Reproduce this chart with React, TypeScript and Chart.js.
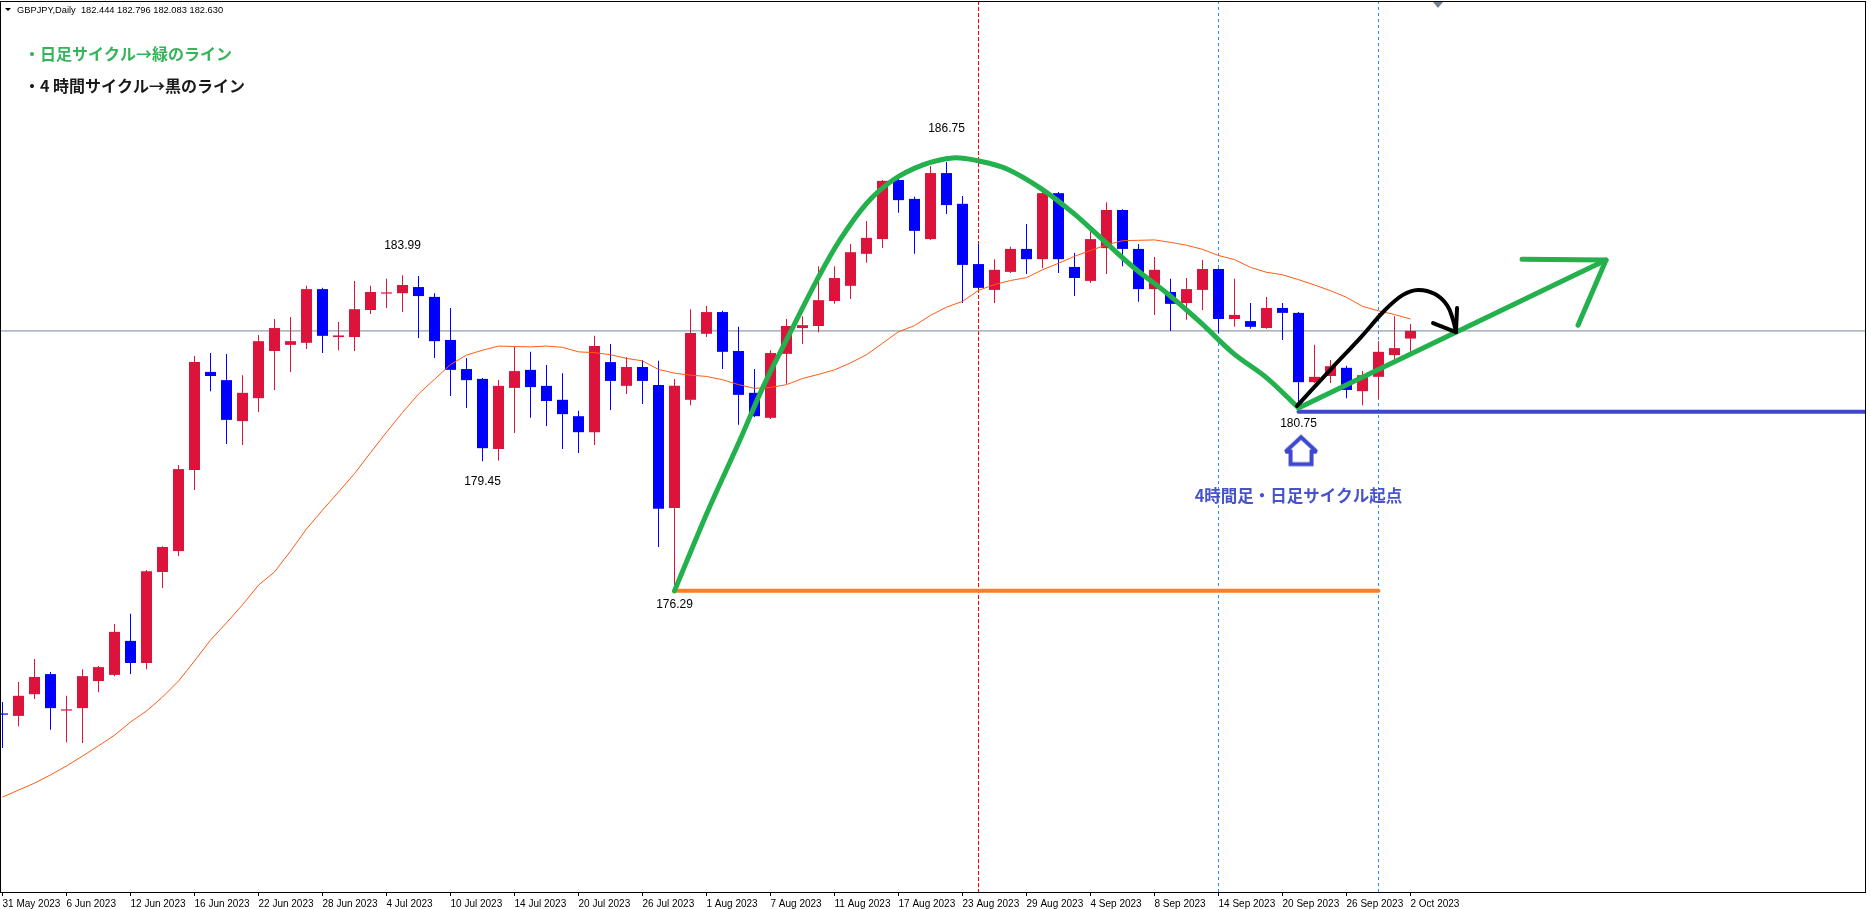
import React, { useEffect, useRef } from "react";
import { Chart, registerables } from "chart.js";

Chart.register(...registerables);

// ---------- data ----------
const symbolTitle = "GBPJPY,Daily";

const tickBars = [0, 4, 8, 12, 16, 20, 24, 28, 32, 36, 40, 44, 48, 52, 56, 60, 64, 68, 72, 76, 80, 84, 88];
const tickLabels = [
  "31 May 2023", "6 Jun 2023", "12 Jun 2023", "16 Jun 2023", "22 Jun 2023", "28 Jun 2023",
  "4 Jul 2023", "10 Jul 2023", "14 Jul 2023", "20 Jul 2023", "26 Jul 2023", "1 Aug 2023",
  "7 Aug 2023", "11 Aug 2023", "17 Aug 2023", "23 Aug 2023", "29 Aug 2023", "4 Sep 2023",
  "8 Sep 2023", "14 Sep 2023", "20 Sep 2023", "26 Sep 2023", "2 Oct 2023",
];

const opens = [
  173.30, 173.24, 173.77, 174.26, 173.37, 173.43, 174.09, 174.24, 175.07, 174.53,
  176.75, 177.26, 179.24, 181.63, 181.43, 180.43, 180.99, 182.14, 182.29, 182.34,
  183.65, 182.48, 182.48, 183.14, 183.54, 183.55, 183.70, 183.46, 182.41, 181.70,
  181.46, 179.75, 181.24, 181.68, 181.29, 180.95, 180.55, 180.16, 181.87, 181.29,
  181.75, 181.31, 178.31, 180.95, 182.56, 183.09, 182.14, 181.12, 180.51, 182.07,
  182.70, 182.75, 183.36, 183.73, 184.51, 184.87, 186.31, 185.85, 184.87, 186.48,
  185.73, 184.26, 183.63, 184.07, 184.63, 184.38, 185.99, 184.19, 183.85, 184.65,
  185.58, 184.63, 183.65, 183.58, 183.31, 183.63, 184.14, 182.92, 182.87, 182.70,
  183.19, 183.07, 181.38, 181.53, 181.73, 181.16, 181.51, 182.04, 182.444,
];
const highs = [
  173.58, 174.07, 174.63, 174.31, 173.73, 174.38, 174.46, 175.48, 175.73, 176.80,
  177.38, 179.36, 182.02, 182.09, 182.07, 181.55, 182.53, 182.92, 182.97, 183.73,
  183.68, 182.85, 183.85, 183.73, 183.90, 183.99, 183.97, 183.55, 183.19, 181.97,
  181.48, 181.43, 182.24, 182.12, 181.80, 181.60, 180.68, 182.51, 182.31, 181.99,
  181.92, 181.90, 181.46, 183.16, 183.24, 183.12, 182.73, 181.70, 182.16, 182.92,
  182.99, 184.21, 184.21, 184.75, 185.31, 186.31, 186.36, 185.90, 186.65, 186.75,
  185.92, 184.75, 184.38, 184.68, 185.24, 186.02, 186.02, 184.53, 185.07, 185.77,
  185.60, 184.75, 184.43, 183.90, 183.92, 184.36, 184.16, 183.90, 183.31, 183.46,
  183.31, 183.09, 182.29, 181.92, 181.78, 181.65, 182.38, 182.99, 182.796,
];
const lows = [
  172.46, 172.99, 173.65, 172.90, 172.60, 172.58, 173.82, 174.21, 174.26, 174.38,
  176.36, 177.14, 178.75, 181.16, 179.87, 179.85, 180.65, 181.19, 181.63, 182.19,
  182.09, 182.16, 182.14, 183.04, 183.19, 183.09, 182.46, 181.97, 181.04, 180.75,
  179.45, 179.47, 180.14, 180.51, 180.31, 179.75, 179.65, 179.85, 180.70, 181.09,
  180.85, 177.36, 176.29, 180.82, 182.48, 181.70, 180.34, 180.53, 180.48, 181.34,
  182.31, 182.60, 183.29, 183.41, 184.29, 184.65, 185.51, 184.51, 184.85, 185.48,
  183.31, 183.65, 183.31, 184.04, 184.02, 184.16, 184.04, 183.48, 183.80, 184.02,
  184.21, 183.34, 183.02, 182.63, 182.90, 183.14, 182.58, 182.73, 182.68, 182.68,
  182.41, 180.75, 181.36, 181.36, 180.99, 180.82, 180.97, 181.90, 182.083,
];
const closes = [
  173.27, 173.73, 174.19, 173.43, 173.40, 174.21, 174.43, 175.29, 174.53, 176.77,
  177.36, 179.26, 181.87, 181.53, 180.46, 181.12, 182.38, 182.70, 182.38, 183.65,
  182.51, 182.52, 183.16, 183.58, 183.57, 183.75, 183.48, 182.38, 181.68, 181.43,
  179.77, 181.29, 181.65, 181.26, 180.92, 180.60, 180.16, 182.26, 181.41, 181.75,
  181.41, 178.29, 181.29, 182.58, 183.09, 182.12, 181.07, 180.55, 182.09, 182.75,
  182.77, 183.38, 183.92, 184.55, 184.90, 186.29, 185.82, 185.07, 186.48, 185.70,
  184.24, 183.68, 184.12, 184.63, 184.38, 185.99, 184.38, 183.92, 184.87, 185.58,
  184.63, 183.65, 184.12, 183.29, 183.65, 184.14, 182.92, 183.02, 182.73, 183.19,
  183.07, 181.38, 181.51, 181.77, 181.19, 181.55, 182.12, 182.21, 182.630,
];
// 20-period moving average
const maValues = [
  171.26, 171.43, 171.60, 171.80, 172.02, 172.26, 172.51, 172.77, 173.09, 173.36,
  173.70, 174.09, 174.58, 175.09, 175.51, 175.95, 176.43, 176.75, 177.26, 177.80,
  178.26, 178.70, 179.15, 179.66, 180.16, 180.64, 181.09, 181.45, 181.81, 182.04,
  182.16, 182.26, 182.25, 182.24, 182.26, 182.23, 182.12, 182.10, 182.05, 181.96,
  181.90, 181.69, 181.60, 181.55, 181.52, 181.44, 181.32, 181.23, 181.25, 181.32,
  181.47, 181.57, 181.68, 181.85, 182.05, 182.33, 182.61, 182.76, 183.01, 183.21,
  183.35, 183.62, 183.76, 183.86, 183.93, 184.12, 184.28, 184.45, 184.59, 184.73,
  184.83, 184.84, 184.85, 184.79, 184.72, 184.62, 184.47, 184.37, 184.18, 184.06,
  184.00, 183.88, 183.75, 183.61, 183.45, 183.23, 183.12, 183.03, 182.92,
];

// marked extremes
const markerBars = [59, 25, 30, 42, 81];
const markerPrices = [186.75, 183.99, 179.45, 176.29, 180.75];

// vertical separators (bar index)
const redLineBars = [61];
const blueLineBars = [76, 86];

// hand-drawn annotations (bar index, price)
const greenArcBars = [42, 44.03, 46.09, 47.53, 49.22, 50.9, 52.34, 54.03, 55.66, 57.53, 59.4, 61.09, 62.78, 64.84, 66.91, 68.59, 70.66, 72.78, 74.84, 76.91, 79.03, 81];
const greenArcPrices = [176.29, 178.19, 179.97, 181.26, 182.58, 183.87, 184.85, 185.75, 186.31, 186.68, 186.85, 186.77, 186.58, 186.12, 185.51, 184.92, 184.19, 183.55, 182.85, 182.09, 181.48, 180.75];
const greenRiseBars = [81, 100.22];
const greenRisePrices = [180.75, 184.36];
const greenHeadBars = [94.97, 100.22, 98.47];
const greenHeadPrices = [184.38, 184.36, 182.77];
const blackPathBars = [80.91, 83.03, 84.91, 86.41, 87.53, 88.47, 89.53, 90.28, 90.66, 90.84];
const blackPathPrices = [180.8, 181.7, 182.48, 183.14, 183.51, 183.63, 183.53, 183.26, 182.9, 182.6];
const blackHeadBars = [89.41, 90.84, 90.91];
const blackHeadPrices = [182.82, 182.6, 183.19];
const orangeBars = [42, 86];
const orangePrice = 176.29;
const blueLevelStart = 81;
const blueLevelPrice = 180.66;
const startArrowBar = 81.16;
const startArrowPrice = 179.71;
const captionBar = 81;
const captionPrice = 178.6;
const shiftMarkerBar = 89.7;

const captionGreen = "・日足サイクル→緑のライン";
const captionBlack = "・4 時間サイクル→黒のライン";
const captionBlue = "4時間足・日足サイクル起点";

// ---------- view ----------
const W = 1871;
const H = 909;
const X_MIN = -0.15625;
const X_MAX = 116.46875;
const Y_MAX = 190.6768;
const Y_MIN = 168.9451;
const BULL = "#dc143c";
const BEAR = "#0000ff";
const markerOffsets = [-33, -29, 20, 14, 16];
const LATIN = "'Liberation Sans', Arial, sans-serif";
const CJK = "'Noto Sans CJK JP', 'Noto Sans CJK SC', sans-serif";

const pts = (xs: number[], ys: number[]) => xs.map((x, i) => ({ x, y: ys[i] }));

export default function App() {
  const ref = useRef<HTMLCanvasElement>(null);

  useEffect(() => {
    const canvas = ref.current;
    if (!canvas) return;

    // hollow up-arrow image used as point style
    const arrowImg = document.createElement("canvas");
    arrowImg.width = 48;
    arrowImg.height = 36;
    const a = arrowImg.getContext("2d")!;
    a.strokeStyle = "#3F48CC";
    a.lineWidth = 4;
    a.lineJoin = "miter";
    a.miterLimit = 2.5;
    const cx = 24, cy = 18;
    a.beginPath();
    a.moveTo(cx, cy - 13.5);
    a.lineTo(cx + 15.5, cy + 1);
    a.lineTo(cx + 10.5, cy + 1);
    a.lineTo(cx + 10.5, cy + 13.5);
    a.lineTo(cx - 10.5, cy + 13.5);
    a.lineTo(cx - 10.5, cy + 1);
    a.lineTo(cx - 15.5, cy + 1);
    a.closePath();
    a.stroke();

    const idx = opens.map((_, i) => i);
    const candleColors = idx.map((i) => (closes[i] >= opens[i] ? BULL : BEAR));
    const lastClose = closes[closes.length - 1];
    const last = opens.length - 1;

    const vLine = (bar: number, color: string, dash: number[]) => ({
      type: "line" as const,
      data: [{ x: bar, y: Y_MAX }, { x: bar, y: Y_MIN }],
      borderColor: color,
      borderWidth: 1,
      borderDash: dash,
      pointRadius: 0,
      order: 30,
    });
    const paint = (data: any[], color: string, width: number, tension: number, order: number) => ({
      type: "line" as const,
      data,
      borderColor: color,
      borderWidth: width,
      pointRadius: 0,
      tension,
      borderJoinStyle: "round" as const,
      borderCapStyle: "round" as const,
      order,
    });

    const textPlugin = {
      id: "mt4Texts",
      afterDatasetsDraw(chart: any) {
        const { ctx, scales } = chart;
        const x = scales.x, y = scales.y;
        ctx.save();
        ctx.font = `12px ${LATIN}`;
        ctx.fillStyle = "#000";
        ctx.textAlign = "center";
        ctx.textBaseline = "middle";
        markerBars.forEach((b, i) => {
          ctx.fillText(markerPrices[i].toFixed(2), x.getPixelForValue(b), y.getPixelForValue(markerPrices[i]) + markerOffsets[i]);
        });
        ctx.font = `bold 16.5px ${CJK}`;
        ctx.fillStyle = "#4753c9";
        ctx.fillText(captionBlue, x.getPixelForValue(captionBar), y.getPixelForValue(captionPrice));
        ctx.restore();
      },
      afterDraw(chart: any) {
        const { ctx, chartArea, scales } = chart;
        ctx.save();
        // frame
        ctx.strokeStyle = "#000";
        ctx.lineWidth = 1;
        ctx.strokeRect(chartArea.left + 0.5, chartArea.top + 0.5, chartArea.right - chartArea.left - 1, chartArea.bottom - chartArea.top);
        // header
        ctx.fillStyle = "#000";
        ctx.beginPath();
        ctx.moveTo(5, 8);
        ctx.lineTo(11, 8);
        ctx.lineTo(8, 11);
        ctx.closePath();
        ctx.fill();
        ctx.font = `9.3px ${LATIN}`;
        ctx.textAlign = "left";
        ctx.textBaseline = "middle";
        const header = `${symbolTitle}  ${opens[last].toFixed(3)} ${highs[last].toFixed(3)} ${lows[last].toFixed(3)} ${closes[last].toFixed(3)}`;
        ctx.fillText(header, 17, 10);
        // chart-shift marker
        const sx = Math.round(scales.x.getPixelForValue(shiftMarkerBar));
        ctx.fillStyle = "#6f8396";
        ctx.beginPath();
        ctx.moveTo(sx - 5, chartArea.top + 1);
        ctx.lineTo(sx + 5, chartArea.top + 1);
        ctx.lineTo(sx, chartArea.top + 7);
        ctx.closePath();
        ctx.fill();
        // captions
        ctx.font = `bold 16px ${CJK}`;
        ctx.fillStyle = "#35b45a";
        ctx.fillText(captionGreen, 24, 54);
        ctx.fillStyle = "#1a1a1a";
        ctx.fillText(captionBlack, 24, 86);
        ctx.restore();
      },
    };

    const chart = new Chart(canvas, {
      type: "bar",
      data: {
        datasets: [
          ...redLineBars.map((b) => vLine(b, "#ff0000", [4, 2])),
          ...blueLineBars.map((b) => vLine(b, "#1e90ff", [3, 3])),
          {
            type: "line",
            data: [{ x: X_MIN, y: lastClose }, { x: X_MAX, y: lastClose }],
            borderColor: "#778899",
            borderWidth: 1,
            pointRadius: 0,
            order: 29,
          },
          {
            type: "bar",
            data: idx.map((i) => ({ x: i, y: [lows[i], highs[i]] })),
            backgroundColor: candleColors,
            barThickness: 1,
            borderWidth: 0,
            inflateAmount: 0,
            stack: "c",
            order: 20,
          } as any,
          {
            type: "bar",
            data: idx.map((i) => ({ x: i, y: [opens[i], closes[i]] })),
            backgroundColor: candleColors,
            barThickness: 11,
            borderWidth: 0,
            inflateAmount: 0,
            minBarLength: 1,
            stack: "c",
            order: 19,
          } as any,
          {
            type: "line",
            data: pts(idx, maValues),
            borderColor: "#ff5a14",
            borderWidth: 1,
            pointRadius: 0,
            tension: 0,
            order: 15,
          },
          paint([{ x: orangeBars[0], y: orangePrice }, { x: orangeBars[1], y: orangePrice }], "#FF7F27", 4, 0, 8),
          paint([{ x: blueLevelStart, y: blueLevelPrice }, { x: X_MAX, y: blueLevelPrice }], "#3F48CC", 4, 0, 8),
          paint(pts(greenArcBars, greenArcPrices), "#22B14C", 5, 0.35, 6),
          paint(pts(greenRiseBars, greenRisePrices), "#22B14C", 5, 0, 6),
          paint(pts(greenHeadBars, greenHeadPrices), "#22B14C", 5, 0, 6),
          paint(pts(blackPathBars, blackPathPrices), "#000000", 4, 0.4, 5),
          paint(pts(blackHeadBars, blackHeadPrices), "#000000", 4, 0, 5),
          {
            type: "line",
            data: [{ x: startArrowBar, y: startArrowPrice }],
            showLine: false,
            pointStyle: arrowImg,
            pointRadius: 5,
            order: 1,
          } as any,
        ] as any,
      },
      options: {
        responsive: false,
        animation: false,
        devicePixelRatio: 1,
        events: [],
        layout: { autoPadding: false, padding: { left: 0, right: 5, top: 1, bottom: 0 } },
        plugins: { legend: { display: false }, tooltip: { enabled: false }, title: { display: false } },
        scales: {
          x: {
            type: "linear",
            min: X_MIN,
            max: X_MAX,
            offset: false,
            afterBuildTicks: (axis: any) => {
              axis.ticks = tickBars.map((v) => ({ value: v }));
            },
            afterFit: (axis: any) => {
              axis.height = 17;
            },
            grid: { drawOnChartArea: false, drawTicks: true, tickLength: 4, color: "#000", offset: false },
            border: { display: false },
            ticks: {
              autoSkip: false,
              maxRotation: 0,
              minRotation: 0,
              align: "start",
              padding: 2,
              color: "#000",
              font: { family: LATIN, size: 10 },
              callback: (v: any) => {
                const i = tickBars.indexOf(Number(v));
                return i >= 0 ? tickLabels[i] : "";
              },
            },
          },
          y: {
            type: "linear",
            display: false,
            min: Y_MIN,
            max: Y_MAX,
            stacked: false,
            beginAtZero: false,
          },
        },
      } as any,
      plugins: [textPlugin],
    });

    return () => chart.destroy();
  }, []);

  return (
    <div style={{ position: "fixed", left: 0, top: 0, width: W, height: H, background: "#fff" }}>
      <canvas ref={ref} width={W} height={H} style={{ display: "block", width: W, height: H }} />
    </div>
  );
}
